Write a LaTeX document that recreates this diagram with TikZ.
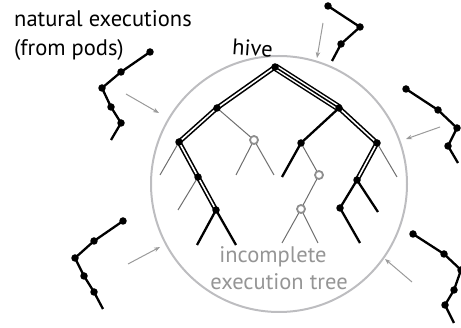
\documentclass[tikz,border=0pt]{standalone}
\usepackage{fontspec}
\setmainfont{PT Sans}
\usetikzlibrary{arrows.meta}
\definecolor{hivegray}{HTML}{BDBDC0}
\definecolor{arrgray}{HTML}{9A9A9A}
\definecolor{thingray}{HTML}{6E6E6E}
\definecolor{ringgray}{HTML}{8E8E8E}
\definecolor{txtgray}{HTML}{959595}
\tikzset{
  dot/.style={circle,fill=black,inner sep=0pt,minimum size=7.5pt},
  ring/.style={circle,draw=ringgray,line width=1.8pt,fill=white,inner sep=0pt,minimum size=8pt},
  thickedge/.style={line width=2.3pt,black},
  thinedge/.style={line width=1pt,thingray},
  dbl/.style={line width=1.6pt,double=white,double distance=1.6pt,black,line join=miter},
  podline/.style={line width=2.3pt,black,line join=round},
  inarrow/.style={line width=1pt,arrgray,-{Stealth[length=6pt,width=4.5pt]}},
  lbl/.style={font=\fontsize{22.5}{22.5}\selectfont,inner sep=0pt,anchor=base}
}
\begin{document}
\begin{tikzpicture}[x=1pt,y=-1pt]
\useasboundingbox (0,0) rectangle (461,328);
% hive circle
\node[circle,draw=hivegray,line width=2pt,minimum size=256pt,inner sep=0pt] (hive) at (279,184) {};
% tree coordinates
\coordinate (r) at (275,67);
\coordinate (l1) at (217,108);
\coordinate (r1) at (339,108);
\coordinate (ll) at (179,142);
\coordinate (g1) at (254,140);
\coordinate (rl) at (301,143);
\coordinate (rr) at (377,143);
\coordinate (a) at (198,177);
\coordinate (b) at (216,210);
\coordinate (g2) at (319,175);
\coordinate (g3) at (301,209);
\coordinate (rrl) at (357,180);
\coordinate (c) at (340,208);
% leaves
\coordinate (e1) at (160,175);
\coordinate (e2) at (178,210);
\coordinate (e3) at (197,245);
\coordinate (e4) at (236,245);
\coordinate (e5) at (236,175);
\coordinate (e6) at (274,175);
\coordinate (e7) at (282,177);
\coordinate (e8) at (282,243);
\coordinate (e9) at (318,243);
\coordinate (e10) at (397,177);
\coordinate (e11) at (378,212);
\coordinate (e12) at (360,243);
% thin edges
\draw[thinedge] (ll) -- (e1);
\draw[thinedge] (a) -- (e2);
\draw[thinedge] (l1) -- (g1);
\draw[thinedge] (g1) -- (e5);
\draw[thinedge] (g1) -- (e6);
\draw[thinedge] (rl) -- (g2);
\draw[thinedge] (g2) -- (g3);
\draw[thinedge] (g3) -- (e8);
\draw[thinedge] (g3) -- (e9);
\draw[thinedge] (rr) -- (e10);
% thick single edges
\draw[thickedge] (b) -- (e3);
\draw[thickedge] (b) -- (e4);
\draw[thickedge] (r1) -- (rl);
\draw[thickedge] (rl) -- (e7);
\draw[thickedge] (rrl) -- (c);
\draw[thickedge] (c) -- (e12);
\draw[thickedge] (rrl) -- (e11);
% double paths
\draw[dbl] (r) -- (l1) -- (ll) -- (a) -- (b);
\draw[dbl] (r1) -- (rr) -- (rrl);
% triple path
\draw[line width=7.5pt,black] (r) -- (r1);
\draw[line width=4.5pt,white] (r) -- (r1);
\draw[line width=1.5pt,black] (r) -- (r1);
% dots
\foreach \n in {r,l1,r1,ll,rl,rr,a,b,rrl,c} \node[dot] (\n D) at (\n) {};
\foreach \n in {g1,g2,g3} \node[ring] (\n R) at (\n) {};
% pods
\coordinate (p1a) at (150,52); \coordinate (p1b) at (121,72); \coordinate (p1c) at (102,88);
\coordinate (p1d) at (111,107); \coordinate (p1e) at (121,123); \coordinate (p1f) at (111,140);
\draw[podline] (p1a) -- (p1b) -- (p1c) -- (p1d) -- (p1e) -- (p1f);
\foreach \n in {p1a,p1b,p1c,p1d,p1e} \node[dot] (\n D) at (\n) {};
\coordinate (p2a) at (328,6); \coordinate (p2b) at (360,27); \coordinate (p2c) at (341,44);
\coordinate (p2d) at (332,61);
\draw[podline] (p2a) -- (p2b) -- (p2c) -- (p2d);
\foreach \n in {p2a,p2b,p2c} \node[dot] (\n D) at (\n) {};
\coordinate (p3a) at (406,89); \coordinate (p3b) at (438,110); \coordinate (p3c) at (457,128);
\coordinate (p3d) at (448,146); \coordinate (p3e) at (458,163);
\draw[podline] (p3a) -- (p3b) -- (p3c) -- (p3d) -- (p3e);
\foreach \n in {p3a,p3b,p3c,p3d} \node[dot] (\n D) at (\n) {};
\coordinate (p4a) at (123,221); \coordinate (p4b) at (94,241); \coordinate (p4c) at (75,258);
\coordinate (p4d) at (84,276); \coordinate (p4e) at (94,292); \coordinate (p4f) at (103,309);
\draw[podline] (p4a) -- (p4b) -- (p4c) -- (p4d) -- (p4e) -- (p4f);
\foreach \n in {p4a,p4b,p4c,p4d,p4e} \node[dot] (\n D) at (\n) {};
\coordinate (p5a) at (413,234); \coordinate (p5b) at (444,254); \coordinate (p5c) at (461,270);
\coordinate (p5d) at (454,290); \coordinate (p5e) at (445,305); \coordinate (p5f) at (454,323);
\draw[podline] (p5a) -- (p5b) -- (p5c) -- (p5d) -- (p5e) -- (p5f);
\foreach \n in {p5a,p5b,p5c,p5d,p5e} \node[dot] (\n D) at (\n) {};
% arrows
\coordinate (a1s) at (126,94); \coordinate (a1e) at (159,113);
\coordinate (a2s) at (323,23); \coordinate (a2e) at (317,58);
\coordinate (a3s) at (440,127); \coordinate (a3e) at (406,139);
\coordinate (a4s) at (128,264); \coordinate (a4e) at (160,247);
\coordinate (a5s) at (412,282); \coordinate (a5e) at (385,259);
\foreach \i in {1,...,5} \draw[inarrow] (a\i s) -- (a\i e);
% labels
\node[lbl,anchor=base west] (nat1) at (14,27) {natural executions};
\node[lbl,anchor=base west] (nat2) at (14,56) {(from pods)};
\node[lbl,rotate=-4] (hivelbl) at (252,56) {hive};
\node[lbl,text=txtgray] (inc1) at (273,263) {incomplete};
\node[lbl,text=txtgray] (inc2) at (279,290) {execution tree};
\end{tikzpicture}
\end{document}
